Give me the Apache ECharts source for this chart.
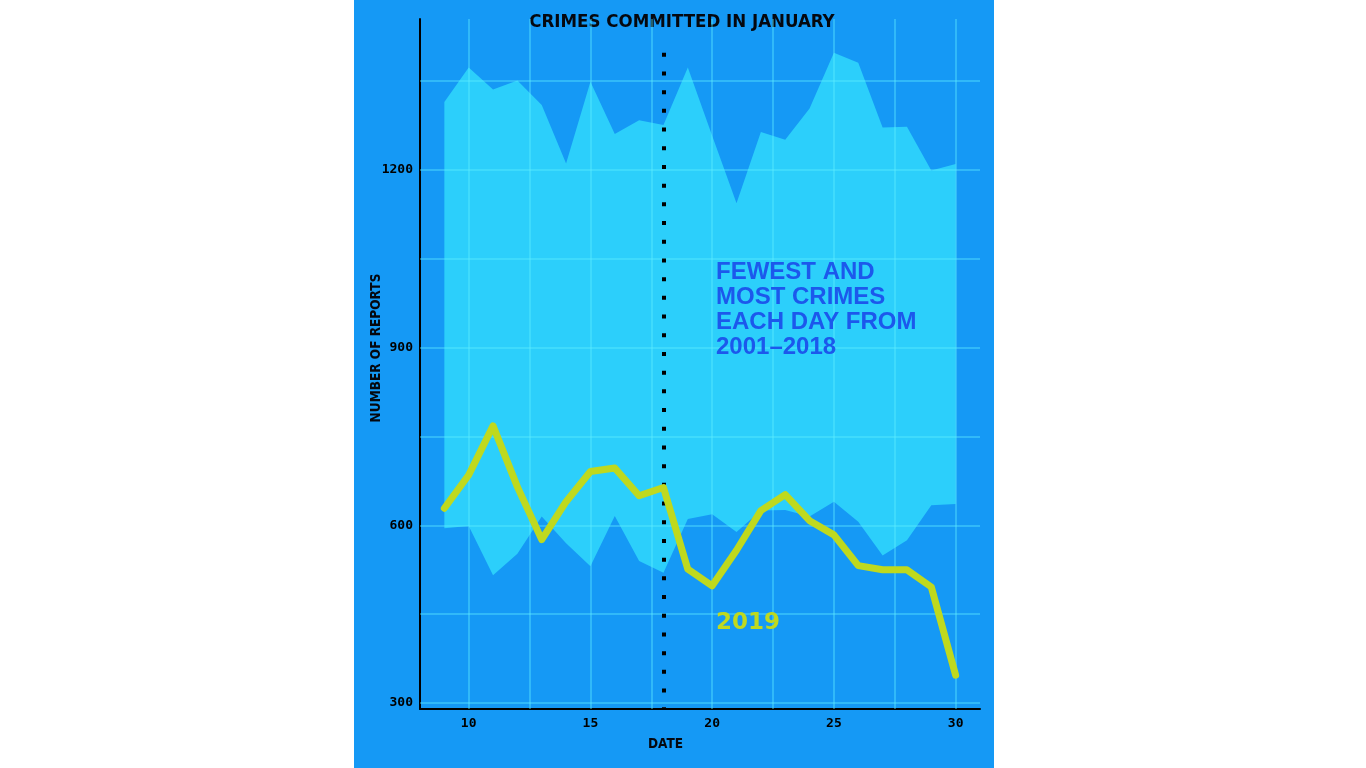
<!DOCTYPE html>
<html>
<head>
<meta charset="utf-8">
<title>Crimes committed in January</title>
<script src="https://cdn.jsdelivr.net/npm/echarts@6/dist/echarts.min.js"></script>
<style>
  html, body { margin: 0; padding: 0; background: #ffffff; }
  #main { position: absolute; left: 354px; top: 0; width: 640px; height: 768px; }
</style>
</head>
<body>
<div id="main"></div>
<script>
// January days shown on the chart
const days = [9, 10, 11, 12, 13, 14, 15, 16, 17, 18, 19, 20, 21, 22, 23, 24, 25, 26, 27, 28, 29, 30];

// most and fewest reports per day, 2001-2018
const maxReports = [1315, 1373, 1336, 1351, 1310, 1211, 1349, 1261, 1284, 1276, 1373, 1258, 1144, 1264, 1251, 1304, 1398, 1381, 1272, 1273, 1199, 1210];
const minReports = [595, 599, 516, 552, 615, 570, 531, 616, 540, 520, 611, 619, 589, 625, 626, 615, 640, 606, 549, 575, 634, 636];

// 2019
const reports2019 = [629, 685, 768, 665, 576, 640, 691, 697, 650, 664, 526, 498, 558, 625, 652, 608, 584, 532, 525, 525, 496, 347];

// ticks and guide lines
const xLabelValues = [10, 15, 20, 25, 30];
const yLabelValues = [300, 600, 900, 1200];
const xGridDays = [10, 12.5, 15, 17.5, 20, 22.5, 25, 27.5, 30];
const yGridValues = [300, 450, 600, 750, 900, 1050, 1200, 1350];
const dividerDay = 18;

const BG = '#1599f5';
const BAND = '#2ccffb';
const GRID = 'rgba(95, 240, 255, 0.5)';
const YELLOW = '#bfd91e';
const BLUE_TEXT = '#1c58ec';
const NARROW = '"Liberation Sans Narrow", "DejaVu Sans Condensed", sans-serif';

const yMin = 290, yMax = 1455;

// band between fewest and most, drawn once as one polygon
function renderBand(params, api) {
    if (params.dataIndex !== 0) return null;
    const top = days.map((d, i) => api.coord([d, maxReports[i]]));
    const bottom = days.map((d, i) => api.coord([d, minReports[i]])).reverse();
    return {
        type: 'polygon',
        shape: { points: top.concat(bottom) },
        style: { fill: BAND }
    };
}

const option = {
    backgroundColor: BG,
    animation: false,
    grid: { left: 66, right: 14, top: 19, bottom: 59 },
    xAxis: {
        type: 'value',
        min: 8,
        max: 31,
        interval: 0.5,
        axisLine: { onZero: false, lineStyle: { color: '#000', width: 2 } },
        axisTick: { show: false },
        splitLine: { show: false },
        axisLabel: {
            margin: 8,
            color: '#000',
            fontFamily: 'DejaVu Sans Mono',
            fontWeight: 'bold',
            fontSize: 13,
            formatter: (v) => xLabelValues.includes(v) ? String(v) : ''
        }
    },
    yAxis: {
        type: 'value',
        min: yMin,
        max: yMax,
        interval: 10,
        axisLine: { show: true, onZero: false, lineStyle: { color: '#000', width: 2 } },
        axisTick: { show: false },
        splitLine: { show: false },
        axisLabel: {
            margin: 7,
            color: '#000',
            fontFamily: 'DejaVu Sans Mono',
            fontWeight: 'bold',
            fontSize: 13,
            formatter: (v) => yLabelValues.includes(v) ? String(v) : ''
        }
    },
    graphic: [
        {
            type: 'text', x: 328, y: 22.5, silent: true,
            style: { text: 'CRIMES COMMITTED IN JANUARY', align: 'center', verticalAlign: 'middle',
                fontFamily: NARROW, fontWeight: 'bold', fontSize: 18.5, fill: '#05080f' }
        },
        {
            type: 'text', x: 22, y: 348, rotation: Math.PI / 2, silent: true,
            style: { text: 'NUMBER OF REPORTS', align: 'center', verticalAlign: 'middle',
                fontFamily: NARROW, fontWeight: 'bold', fontSize: 13.5, fill: '#05080f' }
        },
        {
            type: 'text', x: 311.5, y: 744, silent: true,
            style: { text: 'DATE', align: 'center', verticalAlign: 'middle',
                fontFamily: NARROW, fontWeight: 'bold', fontSize: 13.5, fill: '#05080f' }
        },
        {
            type: 'text', x: 362, y: 259.8, silent: true, z: 20,
            style: { text: 'FEWEST AND\nMOST CRIMES\nEACH DAY FROM\n2001\u20132018', align: 'left', verticalAlign: 'top',
                lineHeight: 25, fontFamily: '"Liberation Sans", sans-serif', fontWeight: 'bold', fontSize: 24, fill: BLUE_TEXT }
        },
        {
            type: 'text', x: 362, y: 623.5, silent: true, z: 20,
            style: { text: '2019', align: 'left', verticalAlign: 'middle',
                fontFamily: '"DejaVu Sans", sans-serif', fontWeight: 'bold', fontSize: 23, fill: YELLOW }
        }
    ],
    series: [
        {
            name: 'Fewest and most, 2001-2018',
            type: 'custom',
            renderItem: renderBand,
            data: days.map((d, i) => [d, minReports[i], maxReports[i]]),
            encode: { x: 0, y: [1, 2] },
            silent: true,
            z: 1,
            markLine: {
                silent: true,
                symbol: 'none',
                z: 3,
                animation: false,
                label: { show: false },
                lineStyle: { color: GRID, width: 1.5, type: 'solid' },
                data: xGridDays.map(d => ({ xAxis: d })).concat(yGridValues.map(v => ({ yAxis: v })))
            }
        },
        {
            name: '2019',
            type: 'line',
            data: days.map((d, i) => [d, reports2019[i]]),
            symbol: 'none',
            silent: true,
            z: 5,
            lineStyle: { color: YELLOW, width: 7, cap: 'round', join: 'round' },
            markLine: {
                silent: true,
                symbol: 'none',
                z: 4,
                animation: false,
                label: { show: false },
                lineStyle: { color: '#000', width: 4, type: [4, 14.7], cap: 'butt' },
                data: [[{ coord: [dividerDay, 1398] }, { coord: [dividerDay, yMin] }]]
            }
        }
    ]
};

const myChart = echarts.init(document.getElementById('main'));
myChart.setOption(option);
</script>
</body>
</html>
